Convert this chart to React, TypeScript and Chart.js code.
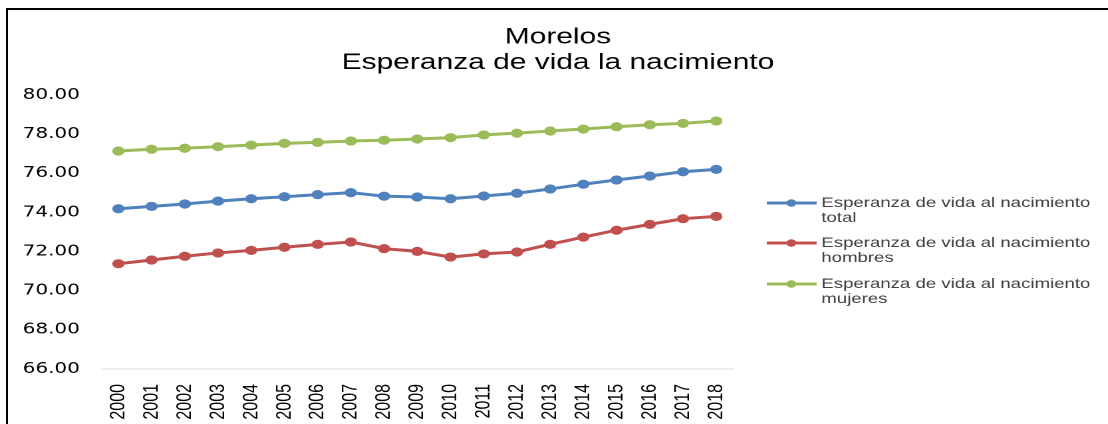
import React, { useEffect, useRef } from "react";
import { Chart, registerables } from "chart.js";

Chart.register(...registerables);

const years = ["2000","2001","2002","2003","2004","2005","2006","2007","2008","2009","2010","2011","2012","2013","2014","2015","2016","2017","2018"];
const total = [74.19, 74.31, 74.43, 74.58, 74.70, 74.80, 74.91, 75.01, 74.83, 74.79, 74.70, 74.84, 74.98, 75.20, 75.44, 75.66, 75.86, 76.08, 76.20];
const hombres = [71.38, 71.57, 71.76, 71.93, 72.06, 72.22, 72.37, 72.49, 72.15, 72.01, 71.72, 71.88, 71.98, 72.37, 72.74, 73.09, 73.39, 73.68, 73.80];
const mujeres = [77.14, 77.23, 77.28, 77.36, 77.44, 77.53, 77.58, 77.65, 77.69, 77.75, 77.82, 77.96, 78.05, 78.16, 78.26, 78.38, 78.48, 78.55, 78.67];
const seriesLabels = [
  ["Esperanza de vida al nacimiento", "total"],
  ["Esperanza de vida al nacimiento", "hombres"],
  ["Esperanza de vida al nacimiento", "mujeres"],
];
const seriesColors = ["#4F81BD", "#C0504D", "#9BBB59"];
const titleLines = ["Morelos", "Esperanza de vida la nacimiento"];
const yMin = 66;
const yMax = 80;
const yStep = 2;

const S = 1.33;
const W = Math.round(1100 / S);
const H = 414;
const PLOT_TOP = 85;
const PLOT_BOTTOM = 359;
const TITLE_SIZE = 22.5;
const TITLE_LH = 1.13;
const TITLE_PAD_TOP = 14.5;

const legendPlugin = {
  id: "sideLegend",
  afterDraw(chart: any) {
    const ctx = chart.ctx;
    const rows = [193, 233, 274];
    ctx.save();
    chart.data.datasets.forEach((ds: any, i: number) => {
      const y = rows[i];
      ctx.strokeStyle = ds.borderColor;
      ctx.lineWidth = 3;
      ctx.beginPath();
      ctx.moveTo(570.5, y);
      ctx.lineTo(608, y);
      ctx.stroke();
      ctx.fillStyle = ds.borderColor;
      ctx.beginPath();
      ctx.arc(589, y, 3.7, 0, Math.PI * 2);
      ctx.fill();
      ctx.fillStyle = "#404040";
      ctx.font = "14px 'Liberation Sans', Arial, sans-serif";
      ctx.textBaseline = "middle";
      ctx.textAlign = "left";
      const lines: string[] = ds.label;
      lines.forEach((t, k) => ctx.fillText(t, 611.5, y + k * 15));
    });
    ctx.restore();
  },
};

export default function App() {
  const ref = useRef<HTMLCanvasElement | null>(null);
  useEffect(() => {
    if (!ref.current) return;
    const chart = new Chart(ref.current, {
      type: "line",
      data: {
        labels: years,
        datasets: [total, hombres, mujeres].map((d, i) => ({
          label: seriesLabels[i] as any,
          data: d,
          borderColor: seriesColors[i],
          backgroundColor: seriesColors[i],
          borderWidth: 3,
          pointRadius: 4.6,
          pointBorderWidth: 0,
          pointBackgroundColor: seriesColors[i],
          tension: 0,
          yAxisID: "y",
        })),
      },
      options: {
        animation: false,
        responsive: true,
        maintainAspectRatio: false,
        devicePixelRatio: 2,
        layout: { padding: 0 },
        plugins: {
          legend: { display: false },
          tooltip: { enabled: false },
          title: {
            display: true,
            text: titleLines,
            color: "#000",
            font: { family: "'Liberation Sans', Arial, sans-serif", size: TITLE_SIZE, weight: "normal", lineHeight: TITLE_LH },
            padding: { top: TITLE_PAD_TOP, bottom: PLOT_TOP - TITLE_PAD_TOP - 2 * TITLE_SIZE * TITLE_LH },
          },
        },
        scales: {
          x: {
            offset: true,
            grid: { display: true, color: "rgba(0,0,0,0)", drawTicks: false },
            border: { display: true, color: "#d9d9d9", width: 1 },
            ticks: {
              minRotation: 90,
              maxRotation: 90,
              autoSkip: false,
              padding: 15,
              color: "#000",
              font: { family: "'Liberation Sans', Arial, sans-serif", size: 16 },
            },
            afterFit(s: any) { s.height = H - PLOT_BOTTOM; },
          },
          y: {
            min: yMin,
            max: yMax,
            grid: { display: false, drawTicks: false },
            border: { display: false },
            ticks: {
              stepSize: yStep,
              padding: 16.5,
              color: "#000",
              font: { family: "'DejaVu Sans', Verdana, sans-serif", size: 15 },
              callback: (v: any) => Number(v).toFixed(2),
            },
            afterFit(s: any) { s.width = 70.5; },
          },
          yR: {
            position: "right",
            display: true,
            grid: { display: false, drawTicks: false },
            border: { display: false },
            ticks: { display: false },
            afterFit(s: any) { s.width = W - 545; },
          },
        },
      },
      plugins: [legendPlugin],
    } as any);
    return () => chart.destroy();
  }, []);
  return (
    <div style={{ position: "absolute", left: 6, top: 8, width: 1102, height: 416, borderTop: "2px solid #000", borderLeft: "2px solid #000", overflow: "hidden", background: "#fff" }}>
      <div style={{ position: "relative", width: W, height: H, transform: `scaleX(${S})`, transformOrigin: "0 0" }}>
        <canvas ref={ref} />
      </div>
    </div>
  );
}
